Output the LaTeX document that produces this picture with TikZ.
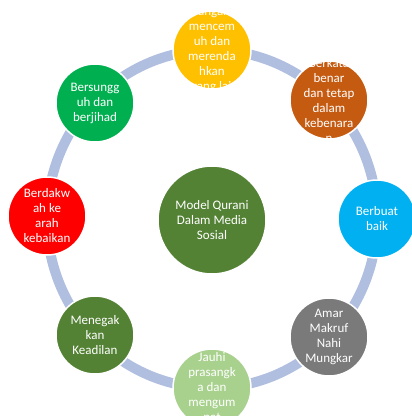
\documentclass[tikz,border=0pt]{standalone}
\usepackage{fontspec}
\setmainfont{Carlito}
\definecolor{ringc}{HTML}{B0BEE0}
\definecolor{cyellow}{HTML}{FFC000}
\definecolor{corange}{HTML}{C55A11}
\definecolor{cblue}{HTML}{00B0F0}
\definecolor{cgray}{HTML}{7A7A7A}
\definecolor{clgreen}{HTML}{A9D18E}
\definecolor{cdgreen}{HTML}{548235}
\definecolor{cred}{HTML}{FF0000}
\definecolor{cgreen}{HTML}{00B050}
\begin{document}
\begin{tikzpicture}[x=1pt,y=-1pt,
  bub/.style={circle, draw=white, line width=1.5pt, minimum size=78pt, inner sep=0pt},
  hub/.style={bub, minimum size=108pt},
  txt/.style={text=white, align=center, inner sep=0pt, font=\fontsize{13}{15}\selectfont},
  ringline/.style={draw=ringc, line width=10pt}]
\useasboundingbox (0,0) rectangle (412,416);
\clip (0,0) rectangle (412,416);
\coordinate (rc) at (212,219);
\draw[ringline] (rc) ellipse [x radius=165, y radius=169];
\node[hub, fill=cdgreen, label={[txt]center:{Model Qurani\\Dalam Media\\Sosial}}] (center) at (212,220) {};
\node[bub, fill=cyellow, label={[txt]center:{Jangan\\mencem\\uh dan\\merenda\\hkan\\orang lain}}] (n1) at (212,50) {};
\node[bub, fill=corange, label={[txt]center:{Berkata\\benar\\dan tetap\\dalam\\kebenara\\n}}] (n2) at (329,100) {};
\node[bub, fill=cblue, label={[txt]center:{Berbuat\\baik}}] (n3) at (377,219) {};
\node[bub, fill=cgray, label={[txt]center:{Amar\\Makruf\\Nahi\\Mungkar}}] (n4) at (329,337) {};
\node[bub, fill=clgreen, label={[txt]center:{Jauhi\\prasangk\\a dan\\mengum\\pat}}] (n5) at (212,388) {};
\node[bub, fill=cdgreen, label={[txt]center:{Menegak\\kan\\Keadilan}}] (n6) at (95,335) {};
\node[bub, fill=cred, label={[txt]center:{Berdakw\\ah ke\\arah\\kebaikan}}] (n7) at (47,216) {};
\node[bub, fill=cgreen, label={[txt]center:{Bersungg\\uh dan\\berjihad}}] (n8) at (95,103) {};
\end{tikzpicture}
\end{document}
